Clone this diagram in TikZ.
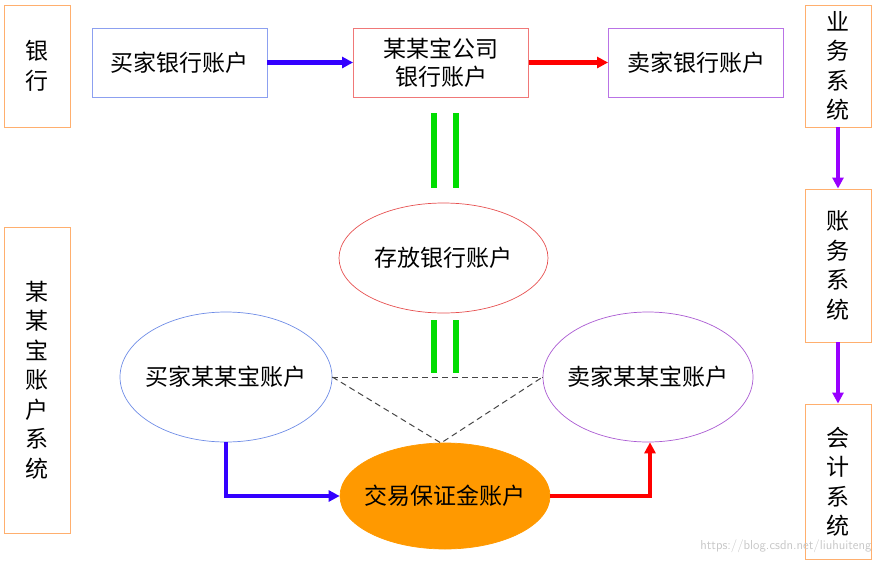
\documentclass[tikz,border=0pt]{standalone}
\usepackage{fontspec}
\newfontfamily\cjk{Noto Sans CJK SC}
\usetikzlibrary{shapes.geometric,arrows.meta,calc}
\definecolor{sysorange}{RGB}{255,175,110}
\definecolor{bluebd}{RGB}{140,160,240}
\definecolor{redbd}{RGB}{240,120,120}
\definecolor{purplebd}{RGB}{185,115,230}
\definecolor{ellred}{RGB}{230,80,80}
\definecolor{ellblue}{RGB}{110,140,230}
\definecolor{ellpurple}{RGB}{170,90,210}
\definecolor{fillorange}{RGB}{255,153,0}
\definecolor{arrblue}{RGB}{51,0,255}
\definecolor{arrred}{RGB}{255,0,0}
\definecolor{arrpurple}{RGB}{153,0,255}
\definecolor{arrgreen}{RGB}{0,221,0}
\definecolor{dashgray}{RGB}{70,70,70}
\tikzset{
  txt/.style={font=\cjk\fontsize{23}{29.5}\selectfont, text=black},
  sysbox/.style={txt, draw=sysorange, line width=0.9pt, minimum width=66pt, align=center, inner sep=0pt},
  acctbox/.style={txt, line width=0.9pt, minimum width=175pt, minimum height=69pt, align=center, inner sep=0pt},
  acctell/.style={txt, ellipse, line width=0.7pt, inner xsep=-25pt, inner ysep=0pt, align=center},
  bigarrow/.style={line width=4.5pt, -{Triangle[length=11pt,width=11pt]}},
  greenbar/.style={arrgreen, line width=6pt},
  dashline/.style={dashgray, dash pattern=on 6pt off 4pt, line width=1pt}
}
\begin{document}
\begin{tikzpicture}[x=1pt,y=-1pt]
\useasboundingbox (0,0) rectangle (879,563);
% system boxes
\node[sysbox, minimum height=122pt] (bank) at (37,66) {银\\行};
\node[sysbox, minimum height=306pt] (baosys) at (37,380) {某\\某\\宝\\账\\户\\系\\统};
\node[sysbox, minimum height=122pt] (biz) at (838,66) {业\\务\\系\\统};
\node[sysbox, minimum height=153pt] (acct) at (838,265.5) {账\\务\\系\\统};
\node[sysbox, minimum height=155pt] (ledger) at (838,481.5) {会\\计\\系\\统};
% bank accounts
\node[acctbox, draw=bluebd] (buyerbank) at (179.5,62.5) {买家银行账户};
\node[acctbox, draw=redbd, font=\cjk\fontsize{23}{28.5}\selectfont] (company) at (441,62.5) {某某宝公司\\银行账户};
\node[acctbox, draw=purplebd] (sellerbank) at (696,62.5) {卖家银行账户};
% ellipses
\node[acctell, draw=ellred, minimum width=209pt, minimum height=110pt] (deposit) at (443.5,258) {存放银行账户};
\node[acctell, draw=ellblue, minimum width=212pt, minimum height=130pt] (buyerbao) at (226,377) {买家某某宝账户};
\node[acctell, draw=ellpurple, minimum width=210pt, minimum height=130pt] (sellerbao) at (648,377) {卖家某某宝账户};
\node[acctell, fill=fillorange, draw=fillorange, minimum width=210pt, minimum height=106pt] (margin) at (445,496) {交易保证金账户};
% top arrows
\draw[bigarrow, arrblue] (buyerbank.east) -- (company.west);
\draw[bigarrow, arrred] (company.east) -- (sellerbank.west);
% right column arrows
\draw[bigarrow, arrpurple] (biz.south) -- (acct.north);
\draw[bigarrow, arrpurple] (acct.south) -- (ledger.north);
% green double bars
\draw[greenbar] (434,113) -- (434,188);
\draw[greenbar] (456,113) -- (456,188);
\draw[greenbar] (434,320) -- (434,373);
\draw[greenbar] (456,320) -- (456,373);
% dashed triangle
\coordinate (apex) at (441,443);
\draw[dashline] (buyerbao.east) -- (sellerbao.west);
\draw[dashline] (buyerbao.east) -- (apex) -- (sellerbao.west);
% bottom arrows
\draw[bigarrow, arrblue] (buyerbao.south) |- (margin.west);
\draw[bigarrow, arrred] (margin.east) -| ($(sellerbao.south)+(2,0)$);
% watermark
\node[font=\sffamily\fontsize{13}{15}\selectfont, text=black!22, anchor=south east] (wm) at (875,556) {https://blog.csdn.net/liuhuiteng};
\end{tikzpicture}
\end{document}
